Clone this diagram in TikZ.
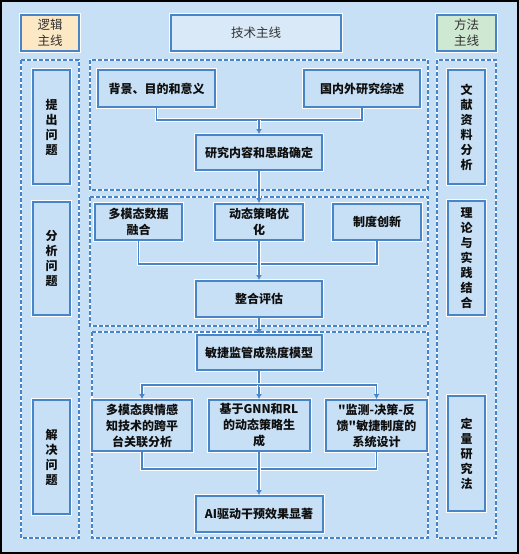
\documentclass[tikz,border=0pt]{standalone}
\usepackage{fontspec}
\setmainfont{Noto Sans CJK SC}
\newfontfamily\qfont{Noto Sans CJK SC}
\newcommand{\sq}{{\qfont\bfseries"}}
\usetikzlibrary{arrows.meta}
\definecolor{bgc}{RGB}{200,224,245}
\definecolor{bluec}{RGB}{72,132,200}
\definecolor{orangec}{RGB}{252,232,196}
\definecolor{greenc}{RGB}{206,232,210}
\definecolor{txtc}{RGB}{15,15,15}
\definecolor{hdrc}{RGB}{50,50,50}
\tikzset{
  box/.style={draw=bluec, line width=2pt, fill=bgc,
    preaction={draw=white, line width=4pt},
    text=txtc, font=\fontsize{12}{16}\selectfont\bfseries, align=center, inner sep=2pt},
  hdr/.style={draw=bluec, line width=2pt, fill=bgc,
    preaction={draw=white, line width=4pt},
    text=hdrc, font=\fontsize{12.5}{16}\selectfont, align=center, inner sep=2pt},
  vbox/.style={box, font=\fontsize{12}{15}\selectfont\bfseries},
  grp/.style={draw=bluec, line width=1.4pt, dash pattern=on 4pt off 2pt,
    preaction={draw=white, line width=2.6pt}},
  conn/.style={draw=bluec, line width=1.8pt,
    preaction={draw=white, line width=3.6pt}},
  arr/.style={conn, -{Latex[length=5pt,width=6pt]}},
}
\begin{document}
\begin{tikzpicture}[x=1pt,y=-1pt]
\useasboundingbox (0,0) rectangle (519,554);
\fill[bgc] (0,0) rectangle (519,554);
\draw[black, line width=2pt] (1,1) rectangle (518,552.5);

% dashed groups
\draw[grp] (21,60) rectangle (79,538);
\draw[grp] (437,60) rectangle (496,538);
\draw[grp] (90,60) rectangle (428,190);
\draw[grp] (90,197) rectangle (428,326);
\draw[grp] (92,332) rectangle (428,538);

% headers
\node[hdr, fill=orangec, minimum width=58, minimum height=36] (h1) at (50,33) {逻辑\\主线};
\node[hdr, fill=bgc!70!white, minimum width=170, minimum height=36] (h2) at (256,33) {技术主线};
\node[hdr, fill=greenc, minimum width=59, minimum height=36] (h3) at (466.5,33) {方法\\主线};

% side boxes
\node[vbox, minimum width=37, minimum height=114] (L1) at (51.5,127) {提\\出\\问\\题};
\node[vbox, minimum width=37, minimum height=113] (L2) at (51.5,258.5) {分\\析\\问\\题};
\node[vbox, minimum width=37, minimum height=114] (L3) at (51.5,457) {解\\决\\问\\题};
\node[vbox, minimum width=37, minimum height=114] (R1) at (466.5,127) {文\\献\\资\\料\\分\\析};
\node[vbox, minimum width=37, minimum height=114] (R2) at (466.5,258) {理\\论\\与\\实\\践\\结\\合};
\node[vbox, minimum width=37, minimum height=115] (R3) at (466.5,453.5) {定\\量\\研\\究\\法};

% group 1
\node[box, minimum width=117, minimum height=37] (b1) at (156.5,88.5) {背景、目的和意义};
\node[box, minimum width=116, minimum height=37] (b2) at (362,88.5) {国内外研究综述};
\node[box, minimum width=126, minimum height=35] (b3) at (259,152.5) {研究内容和思路确定};
\coordinate (j1) at (259,120);
\draw[conn] (b1.south) |- (j1) -| (b2.south);
\draw[arr] (j1) -- (b3.north);

% group 2
\node[box, minimum width=87, minimum height=36] (c1) at (138.5,222) {多模态数据\\融合};
\node[box, minimum width=88, minimum height=36] (c2) at (259,222) {动态策略优\\化};
\node[box, minimum width=88, minimum height=36] (c3) at (377,222) {制度创新};
\node[box, minimum width=126, minimum height=36] (c4) at (259,299) {整合评估};
\draw[arr] (b3.south) -- (c2.north);
\coordinate (j2) at (259,264);
\draw[conn] (c1.south) |- (j2) -| (c3.south);
\draw[arr] (c2.south) -- (c4.north);

% group 3
\node[box, minimum width=125, minimum height=35] (d1) at (259,352.5) {敏捷监管成熟度模型};
\draw[arr] (c4.south) -- (d1.north);
\node[box, minimum width=100, minimum height=51] (d2) at (142,425.5) {多模态舆情感\\知技术的跨平\\台关联分析};
\node[box, minimum width=101, minimum height=51] (d3) at (259,425.5) {基于GNN和RL\\的动态策略生\\成};
\node[box, minimum width=101, minimum height=51] (d4) at (376.5,425.5) {\sq 监测-决策-反\\馈\sq 敏捷制度的\\系统设计};
\coordinate (j3) at (259,385);
\draw[conn] (d1.south) -- (j3);
\draw[arr] (j3) -| (d2.north);
\draw[arr] (j3) -- (d3.north);
\draw[arr] (j3) -| (d4.north);
\node[box, minimum width=127, minimum height=36] (d5) at (259,514) {AI驱动干预效果显著};
\coordinate (j4) at (259,469);
\draw[conn] (d2.south) |- (j4) -| (d4.south);
\draw[arr] (d3.south) -- (d5.north);
\end{tikzpicture}
\end{document}
